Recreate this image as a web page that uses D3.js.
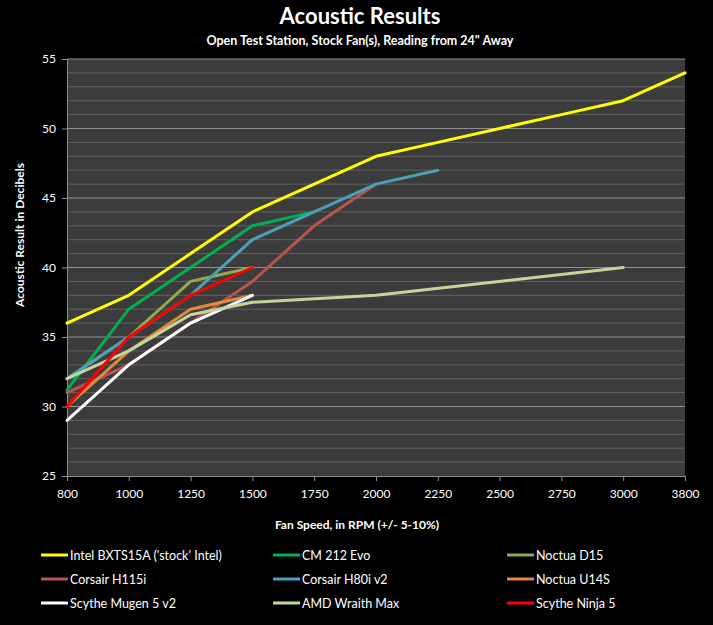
<!DOCTYPE html>
<html><head><meta charset="utf-8">
<script src="https://cdn.jsdelivr.net/npm/d3@7/dist/d3.min.js"></script>
<style>
html,body{margin:0;padding:0;background:#000;}
svg{display:block;}
text{font-family:Lato,"Open Sans",sans-serif;fill:#fff;}
</style></head>
<body>
<script>
const categories = ["800","1000","1250","1500","1750","2000","2250","2500","2750","3000","3800"];
const yTicks = [25,30,35,40,45,50,55];
const seriesNames = ["Intel BXTS15A ('stock' Intel)","CM 212 Evo","Noctua D15","Corsair H115i","Corsair H80i v2","Noctua U14S","Scythe Mugen 5 v2","AMD Wraith Max","Scythe Ninja 5"];
const seriesColors = ["#ffff00","#00b050","#93ab4f","#b85450","#4a9fba","#e08a3c","#ffffff","#c3d69b","#ff0000"];
const intel  = [36,38,41,44,46,48,49,50,51,52,54];
const cm212  = [31.2,37,40,43,44,null,null,null,null,null,null];
const d15    = [32,35,39,40,null,null,null,null,null,null,null];
const h115i  = [31,33,36,39,43,46,null,null,null,null,null];
const h80i   = [32,35,38,42,44,46,47,null,null,null,null];
const u14s   = [30,34,37,38,null,null,null,null,null,null,null];
const mugen  = [29,33,36,38,null,null,null,null,null,null,null];
const wraith = [32,34,36.6,37.5,null,38,null,null,null,40,null];
const ninja  = [30,35,38,40,null,null,null,null,null,null,null];
const seriesValues = [intel,cm212,d15,h115i,h80i,u14s,mugen,wraith,ninja];

const W=713,H=625;
const L=67,R=685,T=59,B=476;
const svg=d3.select("body").append("svg").attr("width",W).attr("height",H);
svg.append("rect").attr("width",W).attr("height",H).attr("fill","#000");

const x=d3.scalePoint().domain(categories).range([L,R]);
const y=d3.scaleLinear().domain([25,55]).range([B,T]);

svg.append("rect").attr("x",L).attr("y",T).attr("width",R-L).attr("height",B-T).attr("fill","#3c3c3c");

const minor=d3.range(26,55).filter(v=>v%5!==0);
svg.append("g").selectAll("line").data(minor).join("line")
  .attr("x1",L).attr("x2",R).attr("y1",d=>y(d)).attr("y2",d=>y(d))
  .attr("stroke","#626262").attr("stroke-width",1);
svg.append("g").selectAll("line").data(yTicks.filter(v=>v>25)).join("line")
  .attr("x1",L).attr("x2",R).attr("y1",d=>y(d)).attr("y2",d=>y(d))
  .attr("stroke","#8f8f8f").attr("stroke-width",1);

const yAxis=d3.axisLeft(y).tickValues(yTicks).tickSize(5).tickPadding(6);
const gy=svg.append("g").attr("transform",`translate(${L},0)`).call(yAxis);
gy.select(".domain").attr("stroke","#8f8f8f");
gy.selectAll(".tick line").attr("stroke","#8f8f8f");
gy.selectAll(".tick text").attr("fill","#fff").style("font-size","12px").style("font-family","Lato,sans-serif");

const xAxis=d3.axisBottom(x).tickSize(5).tickPadding(8);
const gx=svg.append("g").attr("transform",`translate(0,${B})`).call(xAxis);
gx.select(".domain").attr("stroke","#8f8f8f");
gx.selectAll(".tick line").attr("stroke","#8f8f8f");
gx.selectAll(".tick text").attr("fill","#fff").style("font-size","12px").style("font-family","Lato,sans-serif");

const line=d3.line().defined(d=>d.v!=null).x(d=>x(d.c)).y(d=>y(d.v));
seriesValues.forEach((vals,i)=>{
  const pts=vals.map((v,j)=>({c:categories[j],v})).filter(d=>d.v!=null);
  svg.append("path").datum(pts).attr("d",line)
    .attr("fill","none").attr("stroke",seriesColors[i]).attr("stroke-width",3)
    .attr("stroke-linejoin","round").attr("stroke-linecap","round");
});

svg.append("text").attr("x",360).attr("y",24).attr("text-anchor","middle")
  .style("font-size","22px").style("font-weight","bold").text("Acoustic Results");
svg.append("text").attr("x",360).attr("y",45).attr("text-anchor","middle")
  .style("font-size","12.5px").style("font-weight","bold").text("Open Test Station, Stock Fan(s), Reading from 24\" Away");
svg.append("text").attr("x",357).attr("y",529).attr("text-anchor","middle")
  .style("font-size","12px").style("font-weight","bold").text("Fan Speed, in RPM (+/- 5-10%)");
svg.append("text").attr("transform","translate(24,235) rotate(-90)").attr("text-anchor","middle")
  .style("font-size","12px").style("font-weight","bold").text("Acoustic Result in Decibels");

const colX=[41,273,507], rowY=[555,579,603];
seriesNames.forEach((n,i)=>{
  const cx=colX[i%3], cy=rowY[Math.floor(i/3)];
  svg.append("line").attr("x1",cx).attr("x2",cx+27).attr("y1",cy).attr("y2",cy)
    .attr("stroke",seriesColors[i]).attr("stroke-width",3);
  svg.append("text").attr("x",cx+29).attr("y",cy+4.5).style("font-size","12.5px").text(n);
});
</script>
</body></html>
